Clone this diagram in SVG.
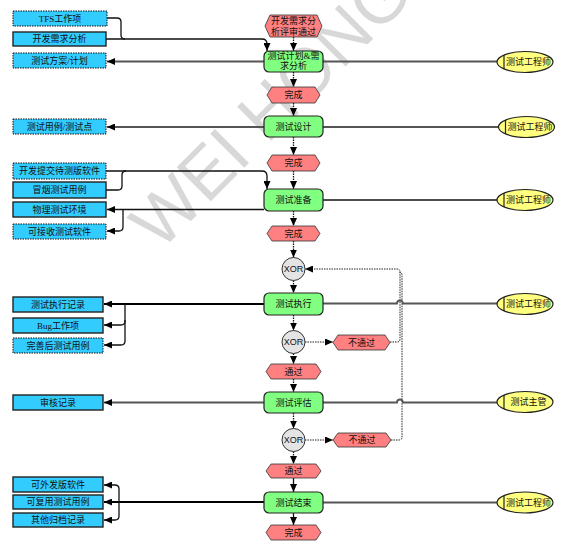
<svg xmlns="http://www.w3.org/2000/svg" width="569" height="548" viewBox="0 0 569 548">
  <style>
    .act { fill: #80ff80; stroke: #222; stroke-width: 1.2; }
    .evt { fill: #ff8080; stroke: #333; stroke-width: 0.8; }
    .box { fill: #33ccff; stroke: #222; stroke-width: 1.4; }
    .boxd { fill: #33ccff; stroke: #111; stroke-width: 1; stroke-dasharray: 1.5 1; }
    .role { fill: #ffff80; stroke: #222; stroke-width: 1.2; }
    .xor { fill: #e4e4e4; stroke: #333; stroke-width: 1; }
    .t { font-family: "Liberation Serif", "Noto Sans CJK SC", serif; font-size: 9px; fill: #111; text-anchor: middle; dominant-baseline: central; }
    .tx { font-family: "Liberation Sans", Arial, sans-serif; font-size: 9px; fill: #112; text-anchor: middle; dominant-baseline: central; }
    .flow { fill: none; stroke: #111; stroke-width: 1.3; stroke-dasharray: 1.5 1; }
    .solid { fill: none; stroke: #111; stroke-width: 1.3; }
    .feed { fill: none; stroke: #222; stroke-width: 1; stroke-dasharray: 1.5 1; }
    .io { fill: none; stroke: #111; stroke-width: 1.3; }
    .iog { fill: none; stroke: #555; stroke-width: 1.8; }
    .iob { fill: none; stroke: #000; stroke-width: 2; }
    .wm { font-family: "Liberation Sans", Arial, sans-serif; font-size: 70px; fill: #d8d8d8; }
  </style>
  <defs>
    <marker id="arr" markerUnits="userSpaceOnUse" markerWidth="8" markerHeight="7" refX="8" refY="3.5" orient="auto">
      <path d="M0,0 L8,3.5 L0,7 z" fill="#000"/>
    </marker>
  </defs>

  <rect width="569" height="548" fill="#ffffff"/>

  <!-- watermark -->
  <text class="wm" transform="translate(160,252) rotate(-45)">WEI HONG</text>

  <!-- connectors -->
  <g id="connectors">
    <!-- main flow -->
    <path class="flow" d="M293.5,37 V51" marker-end="url(#arr)"/>
    <path class="flow" d="M293.5,72 V87" marker-end="url(#arr)"/>
    <path class="flow" d="M293.5,103 V116" marker-end="url(#arr)"/>
    <path class="flow" d="M293.5,137 V155" marker-end="url(#arr)"/>
    <path class="flow" d="M293.5,171 V189" marker-end="url(#arr)"/>
    <path class="flow" d="M293.5,211 V226" marker-end="url(#arr)"/>
    <path class="flow" d="M293.5,241 V257.5" marker-end="url(#arr)"/>
    <path class="flow" d="M293.5,280.5 V293" marker-end="url(#arr)"/>
    <path class="flow" d="M293.5,315 V330.5" marker-end="url(#arr)"/>
    <path class="flow" d="M293.5,353.5 V364" marker-end="url(#arr)"/>
    <path class="flow" d="M293.5,379 V392" marker-end="url(#arr)"/>
    <path class="flow" d="M293.5,413 V428.5" marker-end="url(#arr)"/>
    <path class="flow" d="M293.5,451.5 V464" marker-end="url(#arr)"/>
    <path class="solid" d="M293.5,478 V492" marker-end="url(#arr)"/>
    <path class="solid" d="M293.5,513 V525" marker-end="url(#arr)"/>

    <!-- XOR branches -->
    <path class="feed" d="M305,342 H333" marker-end="url(#arr)"/>
    <path class="feed" d="M305,440 H333" marker-end="url(#arr)"/>
    <path class="feed" d="M390,342 H397 Q400,342 400,339 V272 Q400,269 397,269 H305" marker-end="url(#arr)"/>
    <path class="feed" d="M391,440 H399 Q402,440 402,437 V275 Q402,272 399,272"/>

    <!-- inputs / outputs -->
    <path class="io" d="M107,18 H117 Q121,18 121,22 V35 Q121,39 125,39"/>
    <path class="io" d="M106,39 H262 Q267,39 267,44 V51" marker-end="url(#arr)"/>
    <path class="iog" d="M264,61.5 H107" marker-end="url(#arr)"/>
    <path class="iog" d="M323,61.5 H497"/>
    <path class="iog" d="M264,127 H107" marker-end="url(#arr)"/>
    <path class="iog" d="M323,127 H499"/>

    <path class="io" d="M106,171 H262 Q267,171 267,176 V189" marker-end="url(#arr)"/>
    <path class="io" d="M106,190 H118 Q122,190 122,186 V175 Q122,171 126,171"/>
    <path class="io" d="M264,209.5 H107" marker-end="url(#arr)"/>
    <path class="io" d="M123,209.5 V227 Q123,231 119,231 H107" marker-end="url(#arr)"/>
    <path class="io" d="M323,200 H497"/>

    <path class="iob" d="M265,304 H104" marker-end="url(#arr)"/>
    <path class="io" d="M125,304 V321 Q125,325 121,325 H104" marker-end="url(#arr)"/>
    <path class="io" d="M125,320 V341 Q125,345 121,345 H104" marker-end="url(#arr)"/>
    <path class="iog" d="M323,303.5 H397 A3,3 0 0 1 403,303.5 H497"/>

    <path class="iog" d="M265,402.5 H104" marker-end="url(#arr)"/>
    <path class="iog" d="M323,402.5 H397 A3,3 0 0 1 403,402.5 H497"/>

    <path class="iob" d="M265,502 H104" marker-end="url(#arr)"/>
    <path class="io" d="M119,502 V489 Q119,485 115,485 H104" marker-end="url(#arr)"/>
    <path class="io" d="M119,502 V516 Q119,520 115,520 H104" marker-end="url(#arr)"/>
    <path class="iog" d="M323,502.5 H497"/>
  </g>

  <!-- main column -->
  <g id="start">
    <polygon class="evt" points="265,26 270,15 317,15 322,26 317,37 270,37"/>
    <text class="t" x="293.5" y="21">开发需求分</text>
    <text class="t" x="293.5" y="31.5">析评审通过</text>
  </g>
  <g id="plan">
    <rect class="act" x="264" y="51" width="59" height="21" rx="5"/>
    <text class="t" x="293.5" y="56">测试计划&amp;需</text>
    <text class="t" x="293.5" y="66">求分析</text>
  </g>
  <g id="done1">
    <polygon class="evt" points="267,95 272,87 315,87 320,95 315,103 272,103"/>
    <text class="t" x="293.5" y="95">完成</text>
  </g>
  <g id="design">
    <rect class="act" x="264" y="116" width="59" height="21" rx="5"/>
    <text class="t" x="293.5" y="126.5">测试设计</text>
  </g>
  <g id="done2">
    <polygon class="evt" points="267,163 272,155 315,155 320,163 315,171 272,171"/>
    <text class="t" x="293.5" y="163">完成</text>
  </g>
  <g id="prepare">
    <rect class="act" x="264" y="189" width="59" height="22" rx="5"/>
    <text class="t" x="293.5" y="200">测试准备</text>
  </g>
  <g id="done3">
    <polygon class="evt" points="267,233.5 272,226 315,226 320,233.5 315,241 272,241"/>
    <text class="t" x="293.5" y="233.5">完成</text>
  </g>
  <g id="xor1">
    <circle class="xor" cx="293.5" cy="269" r="11.5"/>
    <text class="tx" x="293.5" y="269">XOR</text>
  </g>
  <g id="execute">
    <rect class="act" x="264" y="293" width="59" height="22" rx="5"/>
    <text class="t" x="293.5" y="304">测试执行</text>
  </g>
  <g id="xor2">
    <circle class="xor" cx="293.5" cy="342" r="11.5"/>
    <text class="tx" x="293.5" y="342">XOR</text>
  </g>
  <g id="fail1">
    <polygon class="evt" points="333,342.5 338,335 385,335 390,342.5 385,350 338,350"/>
    <text class="t" x="361.5" y="342.5">不通过</text>
  </g>
  <g id="pass1">
    <polygon class="evt" points="266,371.5 271,364 316,364 321,371.5 316,379 271,379"/>
    <text class="t" x="293.5" y="371.5">通过</text>
  </g>
  <g id="evaluate">
    <rect class="act" x="264" y="392" width="59" height="21" rx="5"/>
    <text class="t" x="293.5" y="402.5">测试评估</text>
  </g>
  <g id="xor3">
    <circle class="xor" cx="293.5" cy="440" r="11.5"/>
    <text class="tx" x="293.5" y="440">XOR</text>
  </g>
  <g id="fail2">
    <polygon class="evt" points="333,440 338,433 386,433 391,440 386,447 338,447"/>
    <text class="t" x="362" y="440">不通过</text>
  </g>
  <g id="pass2">
    <polygon class="evt" points="266,471 271,464 316,464 321,471 316,478 271,478"/>
    <text class="t" x="293.5" y="471">通过</text>
  </g>
  <g id="finish">
    <rect class="act" x="264" y="492" width="59" height="21" rx="5"/>
    <text class="t" x="293.5" y="502.5">测试结束</text>
  </g>
  <g id="done4">
    <polygon class="evt" points="266,532.5 271,525 316,525 321,532.5 316,540 271,540"/>
    <text class="t" x="293.5" y="532.5">完成</text>
  </g>

  <!-- documents -->
  <g id="doc-tfs"><rect class="boxd" x="13" y="11" width="94" height="15"/><text class="t" x="60" y="18.5">TFS工作项</text></g>
  <g id="doc-req"><rect class="box" x="13" y="32" width="93" height="14"/><text class="t" x="59.5" y="39">开发需求分析</text></g>
  <g id="doc-plan"><rect class="boxd" x="13" y="53" width="93" height="15"/><text class="t" x="59.5" y="60.5">测试方案/计划</text></g>
  <g id="doc-cases"><rect class="boxd" x="13" y="119" width="93" height="15"/><text class="t" x="59.5" y="126.5">测试用例/测试点</text></g>
  <g id="doc-build"><rect class="boxd" x="13" y="163" width="93" height="16"/><text class="t" x="59.5" y="171">开发提交待测版软件</text></g>
  <g id="doc-smoke"><rect class="box" x="13" y="182" width="93" height="16"/><text class="t" x="59.5" y="190">冒烟测试用例</text></g>
  <g id="doc-env"><rect class="box" x="13" y="202" width="93" height="15"/><text class="t" x="59.5" y="209.5">物理测试环境</text></g>
  <g id="doc-accept"><rect class="boxd" x="13" y="224" width="93" height="15"/><text class="t" x="59.5" y="231.5">可接收测试软件</text></g>
  <g id="doc-log"><rect class="box" x="13" y="297" width="90" height="15"/><text class="t" x="58" y="304.5">测试执行记录</text></g>
  <g id="doc-bug"><rect class="box" x="13" y="318" width="90" height="15"/><text class="t" x="58" y="325.5">Bug工作项</text></g>
  <g id="doc-refined"><rect class="boxd" x="13" y="338" width="90" height="15"/><text class="t" x="58" y="345.5">完善后测试用例</text></g>
  <g id="doc-review"><rect class="box" x="13" y="395" width="90" height="15"/><text class="t" x="58" y="402.5">审核记录</text></g>
  <g id="doc-release"><rect class="box" x="13" y="477" width="90" height="15"/><text class="t" x="58" y="484.5">可外发版软件</text></g>
  <g id="doc-reuse"><rect class="box" x="13" y="495" width="90" height="14"/><text class="t" x="58" y="502">可复用测试用例</text></g>
  <g id="doc-archive"><rect class="box" x="13" y="513" width="90" height="14"/><text class="t" x="58" y="520">其他归档记录</text></g>

  <!-- roles -->
  <g id="role1"><ellipse class="role" cx="525" cy="62" rx="28" ry="10.5"/><path d="M504,55 V69" stroke="#222" stroke-width="1.2"/><text class="t" x="528.5" y="62">测试工程师</text></g>
  <g id="role2"><ellipse class="role" cx="526.5" cy="127" rx="28" ry="10.5"/><path d="M505.5,120 V134" stroke="#222" stroke-width="1.2"/><text class="t" x="530" y="127">测试工程师</text></g>
  <g id="role3"><ellipse class="role" cx="525" cy="200" rx="28" ry="10.5"/><path d="M504,193 V207" stroke="#222" stroke-width="1.2"/><text class="t" x="528.5" y="200">测试工程师</text></g>
  <g id="role4"><ellipse class="role" cx="525" cy="304" rx="28" ry="10.5"/><path d="M504,297 V311" stroke="#222" stroke-width="1.2"/><text class="t" x="528.5" y="304">测试工程师</text></g>
  <g id="role5"><ellipse class="role" cx="525" cy="402" rx="28" ry="10.5"/><path d="M504,395 V409" stroke="#222" stroke-width="1.2"/><text class="t" x="528.5" y="402">测试主管</text></g>
  <g id="role6"><ellipse class="role" cx="525" cy="502.5" rx="28" ry="10.5"/><path d="M504,495.5 V509.5" stroke="#222" stroke-width="1.2"/><text class="t" x="528.5" y="502.5">测试工程师</text></g>
</svg>
